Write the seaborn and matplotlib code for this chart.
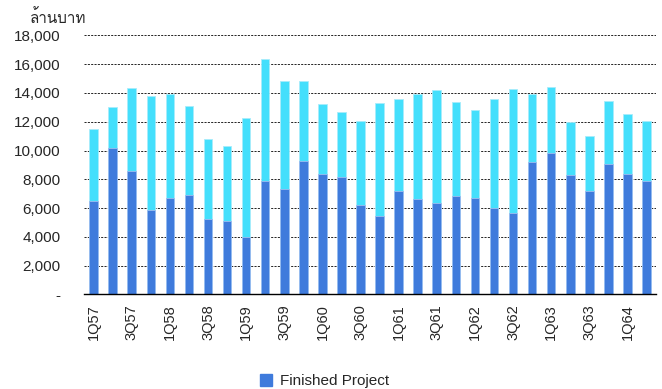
import numpy as np
import pandas as pd
from matplotlib import pyplot as plt
from matplotlib import font_manager
from matplotlib.ft2font import FT2Font
from matplotlib.patches import Patch
import seaborn as sns

sns.set_style("white")
plt.rcParams["font.family"] = ["Liberation Sans", "DejaVu Sans"]

quarters = ["1Q57", "2Q57", "3Q57", "4Q57", "1Q58", "2Q58", "3Q58", "4Q58",
            "1Q59", "2Q59", "3Q59", "4Q59", "1Q60", "2Q60", "3Q60", "4Q60",
            "1Q61", "2Q61", "3Q61", "4Q61", "1Q62", "2Q62", "3Q62", "4Q62",
            "1Q63", "2Q63", "3Q63", "4Q63", "1Q64", "2Q64"]
finished = [6490, 10170, 8580, 5890, 6700, 6910, 5210, 5100, 4010, 7900,
            7350, 9290, 8370, 8160, 6230, 5470, 7210, 6630, 6350, 6840,
            6700, 6000, 5680, 9220, 9830, 8300, 7210, 9090, 8370, 7900]
other = [4980, 2880, 5740, 7900, 7230, 6210, 5570, 5210, 8230, 8440,
         7510, 5570, 4890, 4490, 5820, 7860, 6370, 7300, 7830, 6560,
         6140, 7580, 8570, 4710, 4560, 3710, 3780, 4350, 4140, 4130]

dark = "#3f7bdc"
light = "#44dffc"


def thai_family():
    for f in font_manager.fontManager.ttflist:
        try:
            if 0x0E25 in FT2Font(f.fname).get_charmap():
                return f.name
        except Exception:
            pass
    return "DejaVu Sans"


df = pd.DataFrame({"Quarter": quarters, "Finished": finished, "Other": other})
df["Total"] = df["Finished"] + df["Other"]

fig = plt.figure(figsize=(6.62, 3.89), dpi=100)
ax = fig.add_axes([0.127, 0.243, 0.864, 0.666])

sns.barplot(df, x="Quarter", y="Total", color=light, width=0.45,
            saturation=1, edgecolor="#a8ecfb", linewidth=0.6, ax=ax, zorder=3)
sns.barplot(df, x="Quarter", y="Finished", color=dark, width=0.45,
            saturation=1, edgecolor="#9dbdf0", linewidth=0.6, ax=ax, zorder=4)

ax.set_ylim(0, 18000)
ax.set_xlim(-0.5, len(quarters) - 0.5)
yt = np.arange(0, 18001, 2000)
ax.set_yticks(yt)
ax.set_yticklabels(["-"] + [f"{v:,}" for v in yt[1:]], fontsize=11)
ax.tick_params(axis="y", length=0, pad=17)
ax.set_xticks(range(0, len(quarters), 2))
ax.set_xticklabels(quarters[::2], rotation=90, fontsize=10.5)
ax.tick_params(axis="x", length=0, pad=7)
ax.set_xlabel("")
ax.set_ylabel("")

for v in yt[1:]:
    ax.axhline(v, color="black", linestyle=(0, (2.5, 1.5)), linewidth=0.6, zorder=1)
for s in ["top", "right", "left"]:
    ax.spines[s].set_visible(False)
ax.spines["bottom"].set_color("black")
ax.spines["bottom"].set_linewidth(1.0)
ax.spines["bottom"].set_zorder(5)

fig.text(0.045, 0.955, "ล้านบาท", fontsize=11, va="center", ha="left",
         family=[thai_family(), "Liberation Sans"])

fig.legend(handles=[Patch(color=dark, label="Finished Project")],
           loc="center", bbox_to_anchor=(0.49, 0.02), frameon=False,
           fontsize=11, handlelength=0.8, handleheight=0.8, handletextpad=0.5)

fig.savefig("out.png", dpi=100)
